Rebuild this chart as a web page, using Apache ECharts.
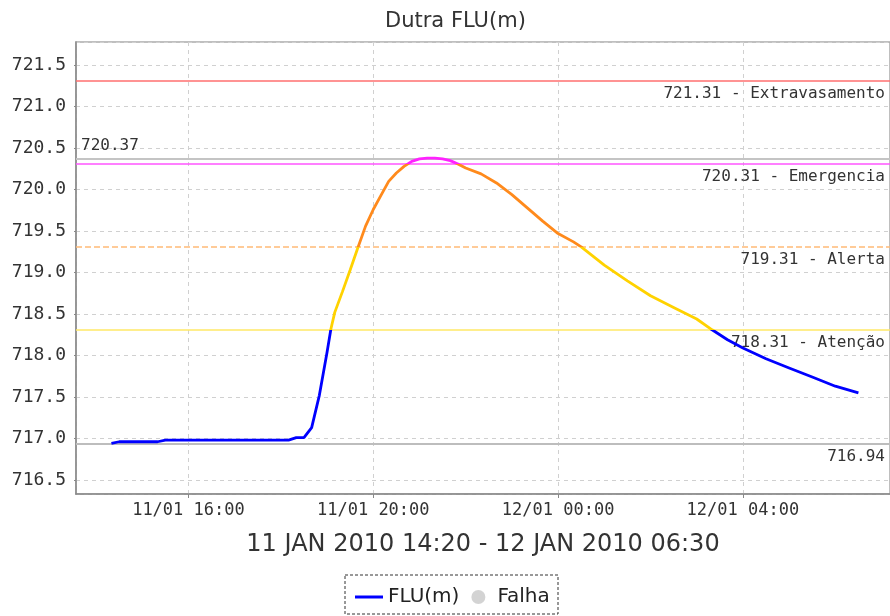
<!DOCTYPE html>
<html><head><meta charset="utf-8">
<script src="https://cdn.jsdelivr.net/npm/echarts@6.0.0/dist/echarts.min.js"></script>
<style>html,body{margin:0;padding:0;background:#fff}#c{width:890px;height:616px}</style>
</head><body><div id="c"></div><script>
// ---- data ----
const times = [
 '2010-01-11 14:20','2010-01-11 14:30','2010-01-11 15:00','2010-01-11 15:20','2010-01-11 15:30',
 '2010-01-11 16:00','2010-01-11 17:00','2010-01-11 18:00','2010-01-11 18:10','2010-01-11 18:20',
 '2010-01-11 18:30','2010-01-11 18:40','2010-01-11 18:50','2010-01-11 19:00','2010-01-11 19:05',
 '2010-01-11 19:10','2010-01-11 19:20','2010-01-11 19:30','2010-01-11 19:40','2010-01-11 19:50',
 '2010-01-11 20:00','2010-01-11 20:10','2010-01-11 20:20','2010-01-11 20:30','2010-01-11 20:40',
 '2010-01-11 20:50','2010-01-11 21:00','2010-01-11 21:10','2010-01-11 21:20','2010-01-11 21:30',
 '2010-01-11 21:40','2010-01-11 21:50','2010-01-11 22:00','2010-01-11 22:20','2010-01-11 22:40',
 '2010-01-11 23:00','2010-01-11 23:20','2010-01-11 23:40','2010-01-12 00:00','2010-01-12 00:20',
 '2010-01-12 00:30','2010-01-12 01:00','2010-01-12 01:30','2010-01-12 02:00','2010-01-12 02:30',
 '2010-01-12 03:00','2010-01-12 03:20','2010-01-12 03:40','2010-01-12 04:00','2010-01-12 04:30',
 '2010-01-12 05:00','2010-01-12 05:30','2010-01-12 06:00','2010-01-12 06:30'
];
const levels = [
 716.94,716.96,716.96,716.96,716.98,
 716.98,716.98,716.98,716.98,717.01,
 717.01,717.13,717.52,718.04,718.32,
 718.52,718.77,719.03,719.30,719.56,
 719.76,719.93,720.10,720.20,720.28,
 720.34,720.37,720.38,720.38,720.37,
 720.35,720.31,720.26,720.19,720.08,
 719.94,719.78,719.62,719.47,719.37,
 719.31,719.09,718.90,718.72,718.58,
 718.44,718.31,718.19,718.09,717.96,
 717.85,717.74,717.63,717.55
];
const thresholdValues = [721.31, 720.31, 719.31, 718.31];
const thresholdNames  = ['Extravasamento', 'Emergencia', 'Alerta', 'Atenção'];
const peakValue = 720.37;
const baseValue = 716.94;
const titleText = 'Dutra FLU(m)';
const periodText = '11 JAN 2010 14:20 - 12 JAN 2010 06:30';
const seriesName = 'FLU(m)';
const failName = 'Falha';

// ---- chart ----
const chart = echarts.init(document.getElementById('c'), null, {renderer: 'canvas'});
const pad = n => (n < 10 ? '0' : '') + n;
const thrColors = ['#ff6f6f', '#ff55ff', '#ffbb77', '#ffe866'];
const thrTypes = ['solid', 'solid', [6, 3], 'solid'];
const mono = 'DejaVu Sans Mono';

const markData = thresholdValues.map((v, i) => ({
  yAxis: v,
  lineStyle: {color: thrColors[i], width: 1.5, type: thrTypes[i]},
  label: {formatter: v.toFixed(2) + ' - ' + thresholdNames[i], position: 'insideEndBottom'}
}));
markData.push({yAxis: peakValue, lineStyle: {color: '#c4c4c4', width: 2, type: 'solid'},
  label: {formatter: peakValue.toFixed(2), position: 'insideStartTop'}});
markData.push({yAxis: baseValue, lineStyle: {color: '#bdbdbd', width: 2, type: 'solid'},
  label: {formatter: baseValue.toFixed(2), position: 'insideEndBottom'}});

chart.setOption({
  animation: false,
  backgroundColor: '#fff',
  color: ['#0000ff', '#c8c8c8'],
  title: {text: titleText, left: 380, top: 6,
    textStyle: {fontFamily: 'DejaVu Sans', fontSize: 21, fontWeight: 'normal', color: '#333'}},
  grid: {left: 76, right: 0, top: 42, bottom: 122, show: true, borderColor: '#aaa', borderWidth: 1.5},
  xAxis: {
    type: 'time',
    min: '2010-01-11 13:34', max: '2010-01-12 07:11',
    minInterval: 4 * 3600 * 1000, maxInterval: 4 * 3600 * 1000,
    name: periodText, nameLocation: 'middle', nameGap: 39,
    nameTextStyle: {fontFamily: 'DejaVu Sans', fontSize: 24, color: '#333'},
    axisLine: {show: true, lineStyle: {color: '#888', width: 1.5}},
    axisTick: {show: true, length: 4, lineStyle: {color: '#888'}},
    axisLabel: {
      fontFamily: mono, fontSize: 17, color: '#333', margin: 8,
      showMinLabel: false, showMaxLabel: false,
      formatter: function (v) {
        const d = new Date(v);
        return pad(d.getDate()) + '/' + pad(d.getMonth() + 1) + ' ' + pad(d.getHours()) + ':' + pad(d.getMinutes());
      }
    },
    splitLine: {show: true, lineStyle: {color: '#d0d0d0', type: [4, 4]}},
    minorTick: {show: false}
  },
  yAxis: {
    type: 'value', min: 716.33, max: 721.78, splitNumber: 10,
    minInterval: 0.5, maxInterval: 0.5,
    axisLine: {show: true, lineStyle: {color: '#888', width: 1.5}},
    axisTick: {show: true, length: 2, lineStyle: {color: '#888'}},
    axisLabel: {fontFamily: mono, fontSize: 18, color: '#333', margin: 10,
      showMinLabel: false, showMaxLabel: false,
      formatter: v => v.toFixed(1)},
    splitLine: {show: true, lineStyle: {color: '#d0d0d0', type: [4, 4]}}
  },
  visualMap: {
    type: 'piecewise', show: false, dimension: 1, seriesIndex: 0,
    pieces: [
      {lt: 718.31, color: '#0000ff'},
      {gte: 718.31, lt: 719.31, color: '#ffd200'},
      {gte: 719.31, lt: 720.31, color: '#ff8a1c'},
      {gte: 720.31, color: '#ff22ff'}
    ]
  },
  legend: {
    left: 350, top: 582, itemGap: 12, itemWidth: 28, itemHeight: 14,
    textStyle: {fontFamily: 'DejaVu Sans', fontSize: 20, color: '#222'},
    data: [
      {name: seriesName, icon: 'path://M0,0 L28,0 L28,3 L0,3 Z', itemStyle: {color: '#0000ff'}},
      {name: failName, icon: 'circle', itemStyle: {color: '#c8c8c8'}}
    ]
  },
  graphic: [{type: 'rect', shape: {x: 345, y: 575, width: 213, height: 39},
    style: {fill: null, stroke: '#333', lineWidth: 1, lineDash: [3, 2]}, silent: true}],
  series: [
    {
      name: seriesName, type: 'line', symbol: 'none', smooth: false, z: 3,
      lineStyle: {width: 2.8},
      data: times.map((t, i) => [t, levels[i]]),
      markLine: {
        silent: true, symbol: ['none', 'none'], animation: false, z: 1,
        label: {fontFamily: mono, fontSize: 16, color: '#333', distance: 5},
        data: markData
      }
    },
    {name: failName, type: 'scatter', data: [], itemStyle: {color: '#c8c8c8'}}
  ]
});
</script></body></html>
